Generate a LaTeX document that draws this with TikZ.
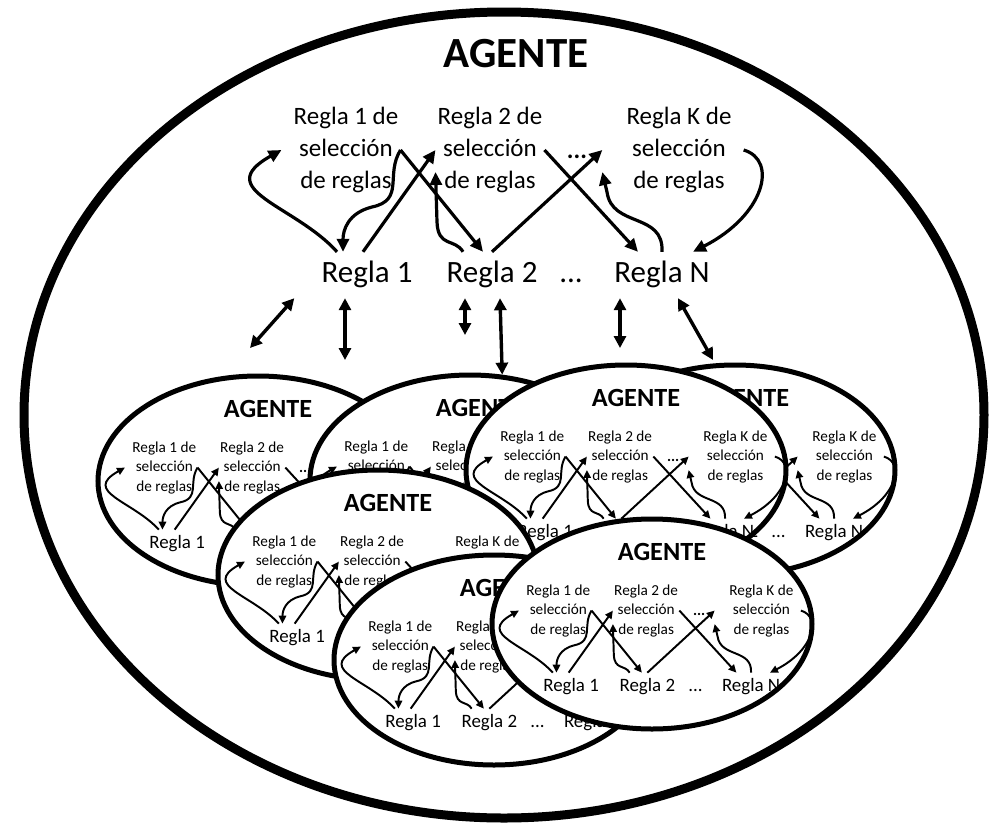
\documentclass[tikz,border=0pt]{standalone}
\usepackage{fontspec}
\setmainfont{Carlito}
\usetikzlibrary{arrows.meta,shapes.geometric}
\tikzset{
  titulo/.style={font=\fontsize{43}{48}\selectfont\bfseries, inner sep=0pt},
  sel/.style={font=\fontsize{25}{32}\selectfont, align=center, inner sep=2pt},
  regla/.style={font=\fontsize{31}{36}\selectfont, inner sep=0pt, minimum height=46pt,
                text height=22pt, text depth=7pt},
  puntos/.style={font=\fontsize{25}{32}\selectfont\bfseries, inner sep=0pt},
  flecha/.style={line width=#1*3.2pt, -{Triangle[length=13pt, width=12pt, scale=#1]}},
  doble/.style={line width=3.4pt, {Triangle[length=12pt, width=12pt]}-{Triangle[length=12pt, width=12pt]}},
  agelipse/.style={ellipse, draw, fill=white, line width=5pt, minimum width=320pt,
                   minimum height=210pt, inner sep=0pt},
  pics/agente/.default=1,
  pics/agente/.style={code={
    \node[titulo] (-tit) at (0,0) {AGENTE};
    \node[sel] (-s1) at (-170,96) {Regla 1 de\\selección\\de reglas};
    \node[sel] (-s2) at (-26,96) {Regla 2 de\\selección\\de reglas};
    \node[sel] (-sk) at (163,96) {Regla K de\\selección\\de reglas};
    \node[puntos] (-p1) at (61,103) {...};
    \node[regla] (-r1) at (-149,221) {Regla 1};
    \node[regla] (-r2) at (-24,221) {Regla 2};
    \node[regla] (-p2) at (55,221) {...};
    \node[regla] (-rn) at (146,221) {Regla N};
    % reglas -> reglas de seleccion y vuelta
    \draw[flecha=#1] ([xshift=-30pt]-r1.north) .. controls (-221,151) and (-306,136) .. ([xshift=-10pt]-s1.west);
    \draw[flecha=#1] (-s1.east) .. controls (-131,121) and (-111,146) .. (-144,153)
                     .. controls (-168,159) and (-173,176) .. ([xshift=-24pt]-r1.north);
    \draw[flecha=#1] (-s1.east) -- ([xshift=-9pt]-r2.north);
    \draw[flecha=#1] ([xshift=-4pt]-r1.north) -- (-s2.west);
    \draw[flecha=#1] ([xshift=-29pt]-r2.north) .. controls (-61,184) and (-78,194) .. (-79,168) -- (-s2.202);
    \draw[flecha=#1] (-r2.north) -- ([xshift=-22pt]-sk.west);
    \draw[flecha=#1] (-s2.east) -- ([xshift=-24pt]-rn.north);
    \draw[flecha=#1] (-rn.north) .. controls (148,158) and (96,174) .. (91,138) -- ([xshift=-22pt]-sk.202);
    \draw[flecha=#1] ([xshift=10pt]-sk.east) .. controls (262,106) and (249,161) .. ([xshift=31pt]-rn.north);
  }}
}

\begin{document}
\begin{tikzpicture}[x=1pt, y=-1pt]
\useasboundingbox (0,0) rectangle (1005,828);
\node[agelipse, line width=9pt, minimum width=960pt, minimum height=806pt] (ext) at (504,415) {};
\pic (big) at (516,54) {agente=1};

% agentes internos
\foreach \n/\x/\y in {a/268/409, b/480/408, d/745/398, c/636/398, e/388/503, f/504/588, g/662/552} {
  \node[agelipse] (e\n) at (\x-10,\y+72) {};
  \pic[scale=.61, transform shape] (\n) at (\x,\y) {agente=.61};
}

\coordinate (d1) at (250,348);
\coordinate (d2) at (345,360);
\coordinate (d3) at (465,335);
\coordinate (d5) at (620,348);
\coordinate (d6) at (713,360);
\draw[doble] ([xshift=-27pt]big-r1.south west) -- (d1);
\draw[doble] ([xshift=-22pt]big-r1.south) -- (d2);
\draw[doble] ([xshift=-27pt]big-r2.south) -- (d3);
\draw[doble] ([xshift=8pt]big-r2.south) -- (eb.73);
\draw[doble] ([xshift=-42pt]big-rn.south) -- (d5);
\draw[doble] ([xshift=16pt]big-rn.south) -- (d6);
\end{tikzpicture}
\end{document}
